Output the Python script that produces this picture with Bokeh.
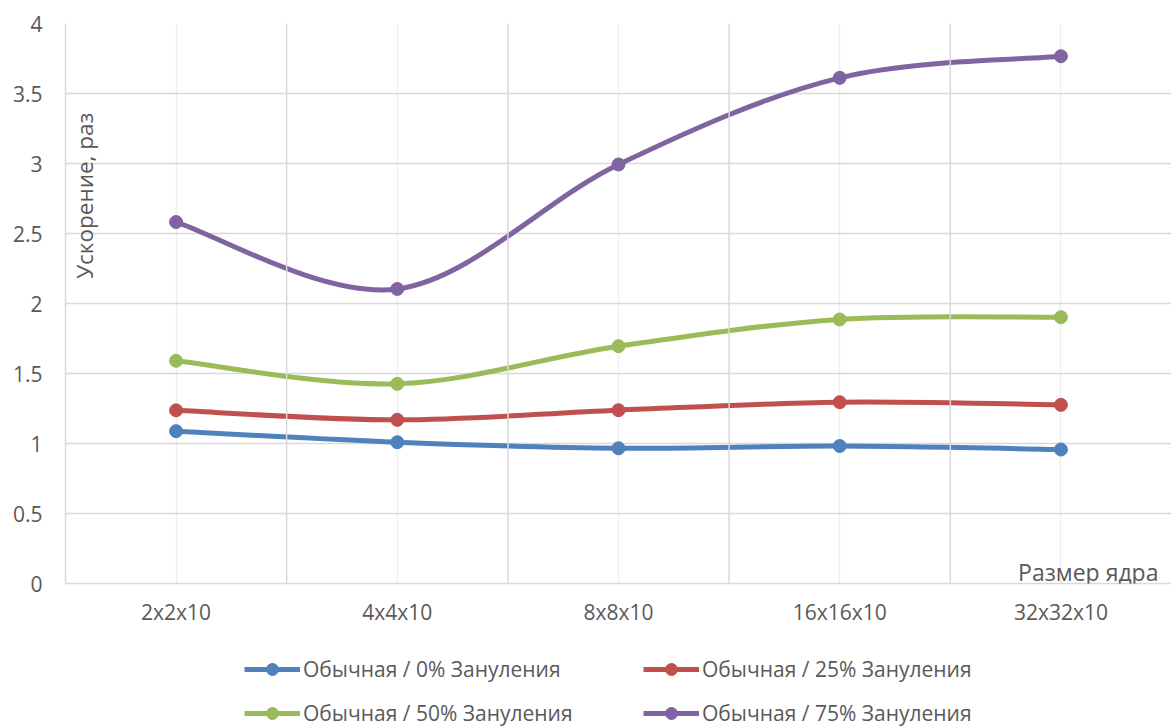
import math

from bokeh.embed import file_html
from bokeh.layouts import column
from bokeh.models import (FactorRange, FixedTicker, Label, Legend, LegendItem,
                          NumeralTickFormatter, Range1d, Span)
from bokeh.plotting import figure
from bokeh.resources import INLINE

# Kernel sizes and measured speed-ups for each zeroing fraction
kernel_sizes = ["2x2x10", "4x4x10", "8x8x10", "16x16x10", "32x32x10"]
speedup_0 = [1.088, 1.009, 0.966, 0.982, 0.957]
speedup_25 = [1.237, 1.169, 1.238, 1.295, 1.276]
speedup_50 = [1.591, 1.426, 1.695, 1.886, 1.902]
speedup_75 = [2.582, 2.104, 2.993, 3.612, 3.766]
series_names = [
    "Обычная / 0% Зануления",
    "Обычная / 25% Зануления",
    "Обычная / 50% Зануления",
    "Обычная / 75% Зануления",
]
y_ticks = [0, 0.5, 1, 1.5, 2, 2.5, 3, 3.5, 4]

colors = ["#4f81bd", "#c0504d", "#9bbb59", "#8064a2"]
FONT = "Open Sans"
TEXT = "#595959"
GRID = "#d9d9d9"
LINE_W = 5
all_series = [speedup_0, speedup_25, speedup_50, speedup_75]

p = figure(
    width=1171, height=640,
    x_range=FactorRange(*kernel_sizes),
    y_range=Range1d(0, 4),
    output_backend="svg", toolbar_location=None,
    min_border_left=65, min_border_right=0, min_border_top=23, min_border_bottom=57,
)
p.outline_line_color = None
p.background_fill_color = "white"
p.border_fill_color = "white"

# grid: horizontal at every tick, light verticals at category centres,
# darker verticals on category boundaries
p.ygrid.ticker = FixedTicker(ticks=y_ticks)
p.ygrid.grid_line_color = GRID
p.ygrid.grid_line_width = 1.5
p.xgrid.grid_line_color = "#eeeeee"
p.xgrid.grid_line_width = 1.5
for b in range(1, len(kernel_sizes)):
    p.add_layout(Span(location=b, dimension="height", line_color=GRID, line_width=1.5))

# axes
p.yaxis.ticker = FixedTicker(ticks=y_ticks)
p.yaxis.formatter = NumeralTickFormatter(format="0.[0]")
for ax in (p.xaxis[0], p.yaxis[0]):
    ax.axis_line_color = GRID
    ax.axis_line_width = 1.5
    ax.major_tick_line_color = None
    ax.minor_tick_line_color = None
    ax.major_label_text_font = FONT
    ax.major_label_text_font_size = "21px"
    ax.major_label_text_color = TEXT
p.yaxis.major_label_standoff = 17
p.xaxis.major_label_standoff = 8


def smooth_segments(ys):
    """Cubic Bezier pieces through the points (Catmull-Rom style, tension 1/6)."""
    xs = [i + 0.5 for i in range(len(ys))]
    n = len(ys)
    seg = dict(x0=[], y0=[], x1=[], y1=[], cx0=[], cy0=[], cx1=[], cy1=[])
    for i in range(n - 1):
        a = max(i - 1, 0)
        d = min(i + 2, n - 1)
        seg["x0"].append(xs[i]); seg["y0"].append(ys[i])
        seg["x1"].append(xs[i + 1]); seg["y1"].append(ys[i + 1])
        seg["cx0"].append(xs[i] + (xs[i + 1] - xs[a]) / 6)
        seg["cy0"].append(ys[i] + (ys[i + 1] - ys[a]) / 6)
        seg["cx1"].append(xs[i + 1] - (xs[d] - xs[i]) / 6)
        seg["cy1"].append(ys[i + 1] - (ys[d] - ys[i]) / 6)
    return seg


for ys, color in zip(all_series, colors):
    p.bezier(line_color=color, line_width=LINE_W, **smooth_segments(ys))
    p.scatter(kernel_sizes, ys, size=13, fill_color=color, line_color=color)

# axis titles drawn inside the plotting area
p.add_layout(Label(
    x=0.086, y=2.77, text="Ускорение, раз", angle=math.pi / 2,
    text_align="center", text_baseline="alphabetic",
    text_font=FONT, text_font_size="22.5px", text_color=TEXT,
))
p.add_layout(Label(
    x=4.941, y=0.08, text="Размер ядра",
    text_align="right", text_baseline="alphabetic",
    text_font=FONT, text_font_size="23px", text_color=TEXT,
))

# legend strip under the chart: two columns of line+marker keys.
# The strip's own view window sits above the series values, so only the keys show.
leg = figure(
    width=1171, height=86, x_range=Range1d(0, 1), y_range=Range1d(100, 101),
    output_backend="svg", toolbar_location=None,
    min_border=0,
)
leg.axis.visible = False
leg.grid.visible = False
leg.outline_line_color = None

keys = []
idx = list(range(len(kernel_sizes)))
for name, ys, color in zip(series_names, all_series, colors):
    ln = leg.line(idx, ys, line_color=color, line_width=LINE_W)
    mk = leg.scatter(idx, ys, fill_color=color, line_color=color)
    keys.append(LegendItem(label=name, renderers=[ln, mk]))

for col_items, x0 in ((keys[0::2], 179), (keys[1::2], 578)):
    leg.add_layout(Legend(
        items=col_items, orientation="vertical", location=(x0, -2),
        glyph_width=56, glyph_height=30, label_standoff=3,
        spacing=14, padding=0, margin=0,
        label_text_font=FONT, label_text_font_size="21px", label_text_color=TEXT,
        border_line_color=None, background_fill_alpha=0,
    ), "center")

layout = column(p, leg, spacing=0)
open("out.html", "w").write(file_html(layout, INLINE))
